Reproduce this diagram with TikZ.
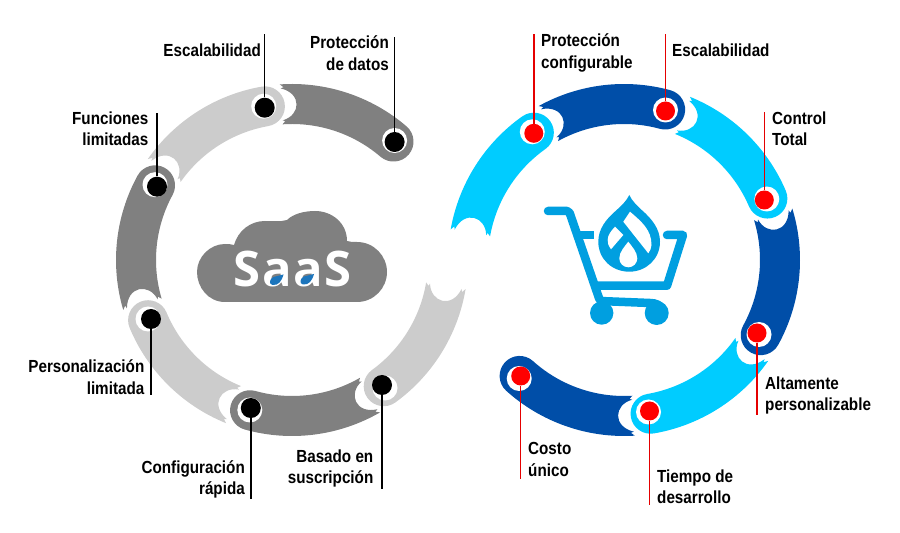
\documentclass[tikz,border=0pt]{standalone}
\usepackage{fontspec}
\setmainfont[FakeStretch=0.87]{Liberation Sans}
\newfontfamily\saasfont[LetterSpace=3]{Open Sans}
\definecolor{dgray}{HTML}{808080}
\definecolor{lgray}{HTML}{CCCCCC}
\definecolor{dblue}{HTML}{004EA8}
\definecolor{lblue}{HTML}{00CCFF}
\definecolor{cartblue}{HTML}{009FE0}
\definecolor{dropblue}{HTML}{1C75BC}
% ring piece: centre, angle of the round end, angle of the torn end, colour
\newcommand{\ringseg}[4]{
	\fill[#4,shift={(#1)}] ({#2}:176) arc[start angle={#2},end angle={#3},radius=176]
	-- ({#3-1.2}:173) -- ({#3-0.2}:172)
	.. controls ({#3-7.5}:167) and ({#3-7.5}:145) .. ({#3-0.2}:140)
	-- ({#3-1.2}:139) -- ({#3}:136)
	arc[start angle={#3},end angle={#2},radius=136]
	arc[start angle={#2+180},end angle={#2+360},radius=20] -- cycle;
}
\begin{document}
\begin{tikzpicture}[x=1pt,y=1pt]
	\tikzstyle{HALO}=[circle,fill=white,inner sep=0pt,minimum size=25pt]
	\tikzstyle{DOTK}=[circle,fill=black,inner sep=0pt,minimum size=20pt]
	\tikzstyle{DOTR}=[circle,fill=red,inner sep=0pt,minimum size=19pt]
	\tikzstyle{LEADK}=[draw=black,line width=1.5pt]
	\tikzstyle{LEADR}=[draw=red!90!black,line width=1.5pt]
	\tikzstyle{TXT}=[inner sep=0pt,font=\bfseries\fontsize{17.5}{21.5}\selectfont]
	\tikzstyle{TXTL}=[TXT,anchor=east,align=right]
	\tikzstyle{TXTR}=[TXT,anchor=west,align=left]
	\tikzstyle{CART}=[draw=cartblue,line width=8.5pt,line join=round]
	\useasboundingbox (0,0) rectangle (900,533);

	\coordinate (lc) at (292,273);
	\coordinate (rc) at (624,273);

	% left ring
	\ringseg{lc}{49.4}{94}{dgray}
	\ringseg{lc}{100}{145}{lgray}
	\ringseg{lc}{151.4}{196.5}{dgray}
	\ringseg{lc}{202.7}{248}{lgray}
	\ringseg{lc}{254.4}{300}{dgray}
	\ringseg{lc}{306}{350.5}{lgray}

	% right ring
	\ringseg{rc}{125.3}{170}{lblue}
	\ringseg{rc}{74.7}{119}{dblue}
	\ringseg{rc}{23.2}{68}{lblue}
	\ringseg{rc}{-28.8}{17}{dblue}
	\ringseg{rc}{-80.2}{-35}{lblue}
	\ringseg{rc}{-132}{-86.5}{dblue}

	% white rings behind the dots
	\node[HALO] (l-1-h) at (394.6,392.5) {};
	\node[HALO] (l-2-h) at (263.7,426.8) {};
	\node[HALO] (l-3-h) at (155,348.3) {};
	\node[HALO] (l-4-h) at (148,214) {};
	\node[HALO] (l-5-h) at (249.8,123) {};
	\node[HALO] (l-6-h) at (385,145) {};
	\node[HALO] (r-1-h) at (532.3,401.2) {};
	\node[HALO] (r-2-h) at (665.5,423) {};
	\node[HALO] (r-3-h) at (766.8,334) {};
	\node[HALO] (r-4-h) at (759,198.5) {};
	\node[HALO] (r-5-h) at (648.5,121) {};
	\node[HALO] (r-6-h) at (519.2,154.5) {};

	% dots
	\node[DOTK] (l-1) at (394.6,391) {};
	\node[DOTK] (l-2) at (264.7,425.3) {};
	\node[DOTK] (l-3) at (157,346.3) {};
	\node[DOTK] (l-4) at (151,214) {};
	\node[DOTK] (l-5) at (250.8,125) {};
	\node[DOTK] (l-6) at (382,148) {};
	\node[DOTR] (r-1) at (533.8,399.7) {};
	\node[DOTR] (r-2) at (665.5,422) {};
	\node[DOTR] (r-3) at (764.3,333) {};
	\node[DOTR] (r-4) at (757,200) {};
	\node[DOTR] (r-5) at (649.5,122) {};
	\node[DOTR] (r-6) at (520.7,157) {};

	% free ends of the leaders
	\coordinate (l-1-e) at (394.6,496);
	\coordinate (l-2-e) at (264.7,499);
	\coordinate (l-3-e) at (157,420);
	\coordinate (l-4-e) at (151,138);
	\coordinate (l-5-e) at (250.8,34);
	\coordinate (l-6-e) at (382,44);
	\coordinate (r-1-e) at (533.8,499);
	\coordinate (r-2-e) at (665.5,499);
	\coordinate (r-3-e) at (764.3,421.3);
	\coordinate (r-4-e) at (757,118);
	\coordinate (r-5-e) at (649.5,28);
	\coordinate (r-6-e) at (520.7,54);

	\path[LEADK]
	(l-1) edge (l-1-e)
	(l-2) edge (l-2-e)
	(l-3) edge (l-3-e)
	(l-4) edge (l-4-e)
	(l-5) edge (l-5-e)
	(l-6) edge (l-6-e)
	;
	\path[LEADR]
	(r-1) edge (r-1-e)
	(r-2) edge (r-2-e)
	(r-3) edge (r-3-e)
	(r-4) edge (r-4-e)
	(r-5) edge (r-5-e)
	(r-6) edge (r-6-e)
	;

	% labels
	\node[TXTL] (l-1-t) at (389,480) {Protección\\de datos};
	\node[TXTL] (l-2-t) at (261,482.5) {Escalabilidad};
	\node[TXTL] (l-3-t) at (148.5,404.5) {Funciones\\limitadas};
	\node[TXTL] (l-4-t) at (144.5,156) {Personalización\\limitada};
	\node[TXTL] (l-5-t) at (245,53.5) {Configuración\\rápida};
	\node[TXTL] (l-6-t) at (373.5,64.5) {Basado en\\suscripción};
	\node[TXTR] (r-1-t) at (541,480) {Protección\\configurable};
	\node[TXTR] (r-2-t) at (672,482.5) {Escalabilidad};
	\node[TXTR] (r-3-t) at (772,404.5) {Control\\Total};
	\node[TXTR] (r-4-t) at (765,137.5) {Altamente\\personalizable};
	\node[TXTR] (r-5-t) at (657,46.5) {Tiempo de\\desarrollo};
	\node[TXTR] (r-6-t) at (528,73.5) {Costo\\único};

	% cloud
	\fill[dgray] (225,231) .. controls (208,231) and (197,246) .. (197,261)
	.. controls (197,276) and (210,289) .. (225,289)
	.. controls (228,289) and (231,289) .. (234,288)
	.. controls (238,302) and (250,312) .. (265,312)
	.. controls (272,312) and (280,311) .. (287,313)
	.. controls (293,319) and (304,322) .. (315,322)
	.. controls (332,322) and (347,310) .. (347,292)
	.. controls (350,291) and (353,291) .. (357,291)
	.. controls (374,291) and (387,277) .. (387,261)
	.. controls (387,245) and (374,231) .. (357,231) -- cycle;
	\node[white,inner sep=0pt,font=\saasfont\bfseries\fontsize{49}{49}\selectfont] (saas) at (292.5,264) {SaaS};
	\fill[dropblue,shift={(276.5,253.5)}] (7,5) .. controls (5,-2) and (2,-6) .. (-4,-5.5) .. controls (-8,-5) and (-7,1) .. (-3,2.5) -- cycle;
	\fill[dropblue,shift={(307,254)}] (7,5) .. controls (5,-2) and (2,-6) .. (-4,-5.5) .. controls (-8,-5) and (-7,1) .. (-3,2.5) -- cycle;

	% cart
	\draw[CART,line cap=round,rounded corners=2pt] (548,322) -- (569,322) -- (600,232) -- (650,230);
	\draw[CART] (650,230) .. controls (656,230) and (660,228) .. (662,224);
	\draw[CART] (578,298) -- (594,298);
	\draw[CART,line cap=round] (597,247.3) -- (667,247.3) -- (683,298) -- (667,298);
	\fill[cartblue] (601.7,220) circle (11.7);
	\fill[cartblue] (656.7,220) circle (12);

	% drop
	\fill[cartblue] (629.3,338) .. controls (632,332) and (637,327.5) .. (641.7,323)
	.. controls (652,314) and (660,304) .. (660,291.3)
	.. controls (660,274) and (646,261.3) .. (629.3,261.3)
	.. controls (612,261.3) and (598.3,274) .. (598.3,291.3)
	.. controls (598.3,304) and (606,314) .. (616.7,323)
	.. controls (621.5,327.5) and (626.5,332) .. (629.3,338) -- cycle;
	\fill[white] (630,321.3) .. controls (642,311) and (651.5,303) .. (651.5,288)
	.. controls (651.5,285) and (650,282) .. (648.3,279.7) -- (623.3,311.3) -- cycle;
	\fill[white] (615,306.3) -- (623.3,298) -- (611,283.7) .. controls (608,288) and (607.7,290) .. (607.7,293)
	.. controls (607.7,298) and (611,302) .. (615,306.3) -- cycle;
	\fill[white] (628.3,291.3) .. controls (625,287) and (619.3,281) .. (619.3,274.7)
	arc[start angle=180,end angle=360,radius=9]
	.. controls (637.3,281) and (631.5,287) .. (628.3,291.3) -- cycle;
\end{tikzpicture}
\end{document}
